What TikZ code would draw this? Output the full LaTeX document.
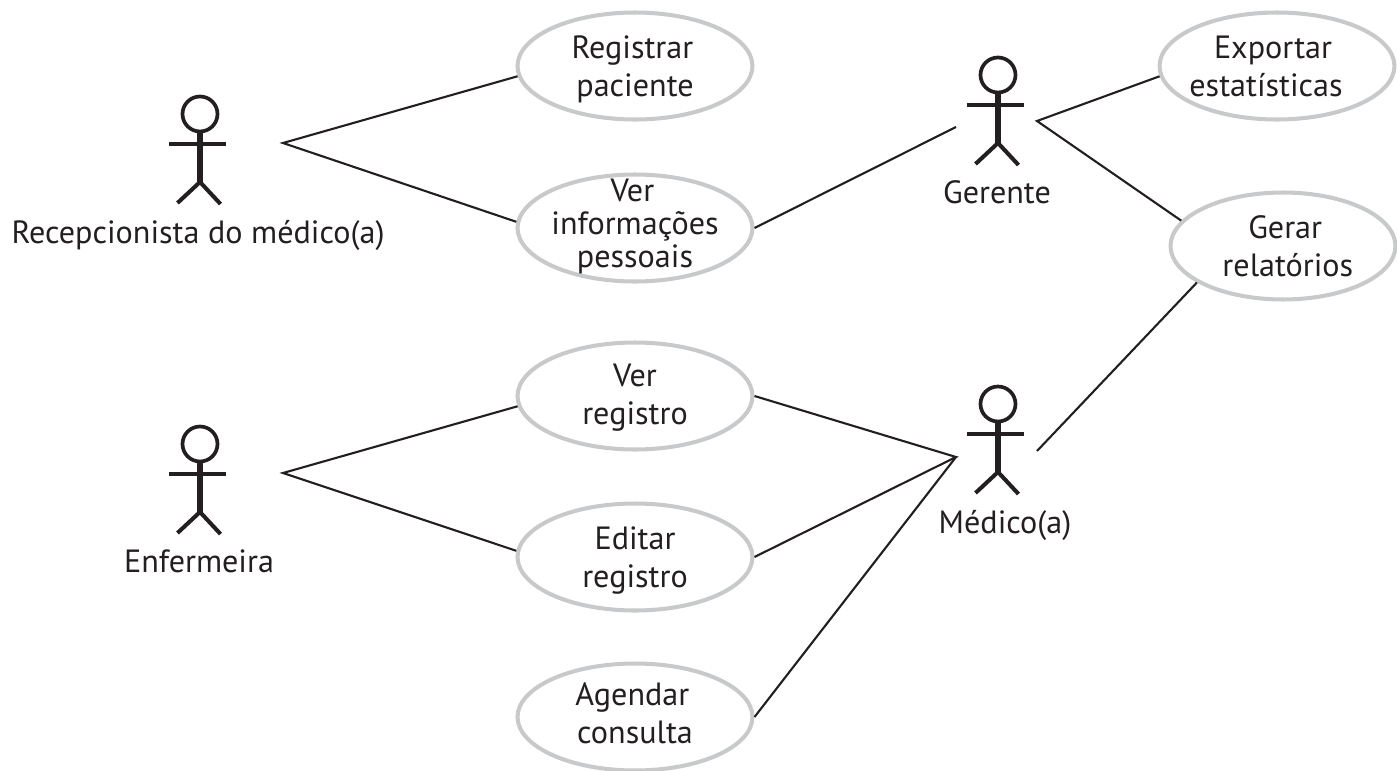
\documentclass[tikz,border=0pt]{standalone}
\usepackage{fontspec}
\setmainfont{PT Sans}
\usepackage{xcolor}
\usetikzlibrary{shapes.geometric}
\definecolor{ink}{HTML}{231F20}
\definecolor{rim}{HTML}{C8C9CA}
\tikzset{usecase/.style={ellipse, draw=rim, line width=2.3pt, minimum width=4.7cm, minimum height=2.14cm, inner sep=-8pt, align=center, text=ink, font=\fontsize{18.3}{21.5}\selectfont,
  execute at begin node={\rule{0pt}{40pt}}, execute at end node={\rule[-5.7pt]{0pt}{0pt}}}}
\tikzset{actorlabel/.style={anchor=base, inner sep=0pt, text=ink, font=\fontsize{18.3}{21.5}\selectfont}}
\tikzset{link/.style={draw=ink, line width=1.2pt}}
\tikzset{actor/.pic={
  \draw [ink, line width=2.1pt] (0, -30) circle (17.5);
  \draw [ink, line width=2.1pt] (-31, 0) -- (26, 0);
  \draw [ink, line width=2.9pt] (0, -13) -- (0, 38);
  \draw [ink, line width=2.3pt] (-22.5, 59) -- (0, 38) -- (20.5, 60);
}}

\begin{document}
\begin{tikzpicture}[x=0.02cm, y=-0.02cm]
      \useasboundingbox (0, 0) rectangle (1397, 771);

      \pic at (200, 144) {actor};
      \pic at (200, 474) {actor};
      \pic at (998, 105) {actor};
      \pic at (998, 434) {actor};

      \node [actorlabel] (recep) at (198, 243) {Recepcionista do médico(a)};
      \node [actorlabel] (enf) at (199, 572) {Enfermeira};
      \node [actorlabel] (ger) at (997, 203) {Gerente};
      \node [actorlabel] (med) at (1005, 533) {Médico(a)};

      \node [usecase] (reg) at (635, 66) {Registrar\hspace*{3pt}\\paciente};
      \node [usecase, font=\fontsize{18.3}{18.7}\selectfont, execute at end node={\rule[-4pt]{0pt}{0pt}}] (info) at (635, 228) {Ver\hspace*{3pt}\\informações\hspace*{3pt}\\pessoais};
      \node [usecase, execute at end node={\rule[-8pt]{0pt}{0pt}}] (ver) at (635, 396) {Ver\\registro};
      \node [usecase] (edit) at (635, 557) {Editar\\registro};
      \node [usecase, execute at end node={\rule[-10.3pt]{0pt}{0pt}}] (agenda) at (635, 717) {Agendar\hspace*{3pt}\\consulta};
      \node [usecase] (exp) at (1277, 66) {Exportar\hspace*{4.5pt}\\estatísticas\hspace*{12.5pt}};
      \node [usecase, minimum width=4.5cm] (rel) at (1283, 246) {\hspace*{2.5pt}Gerar\\\hspace*{5.5pt}relatórios};

      \coordinate (recepR) at (283, 143);
      \coordinate (enfR) at (283, 473);
      \coordinate (gerL) at (956, 127);
      \coordinate (gerR) at (1037, 121);
      \coordinate (medL) at (956, 457);
      \coordinate (medR) at (1037, 451);

      \draw [link] (reg.185) -- (recepR) -- (info.177);
      \draw [link] (ver.185) -- (enfR) -- (edit.177);
      \draw [link] (info.east) -- (gerL);
      \draw [link] (exp.185) -- (gerR) -- (rel.166);
      \draw [link] (ver.east) -- (medL) -- (edit.east);
      \draw [link] (agenda.east) -- (medL);
      \draw [link] (rel.203) -- (medR);
    \end{tikzpicture}
\end{document}
